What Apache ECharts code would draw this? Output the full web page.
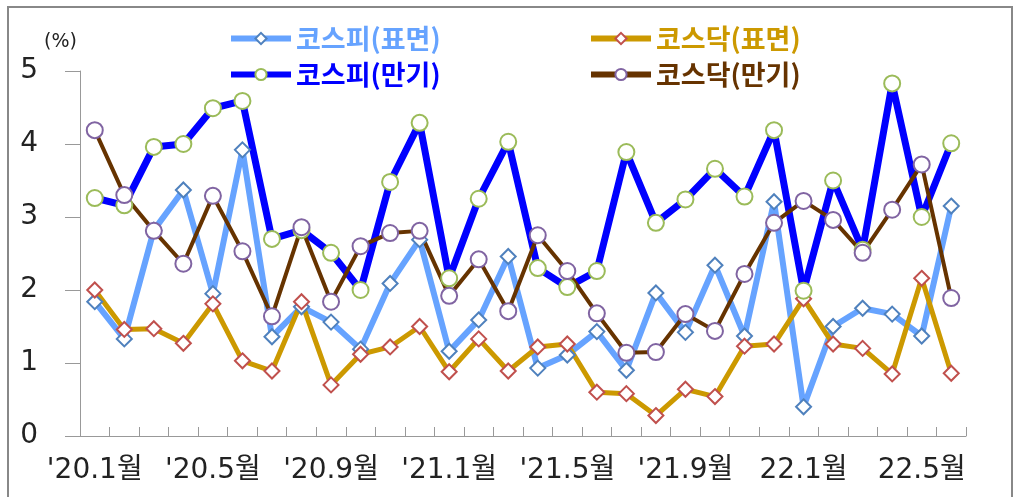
<!DOCTYPE html>
<html>
<head>
<meta charset="UTF-8">
<title>kospi kosdaq</title>
<script src="https://cdn.jsdelivr.net/npm/echarts@6/dist/echarts.min.js"></script>
<style>
	html, body { margin:0; padding:0; background:#fff; }
	#chart-div { width:1014px; height:497px; }
</style>
</head>
<body>
	<div id="chart-div"></div>

	<script type="text/javascript">
		var months = ["'20.1월","'20.2월","'20.3월","'20.4월","'20.5월","'20.6월","'20.7월","'20.8월","'20.9월","'20.10월",
			"'20.11월","'20.12월","'21.1월","'21.2월","'21.3월","'21.4월","'21.5월","'21.6월","'21.7월","'21.8월",
			"'21.9월","'21.10월","'21.11월","'21.12월","22.1월","22.2월","22.3월","22.4월","22.5월","22.6월"];

		var kospiSurface = [1.84,1.33,2.82,3.37,1.95,3.92,1.36,1.77,1.56,1.19,
			2.09,2.69,1.16,1.59,2.46,0.93,1.11,1.43,0.90,1.96,
			1.42,2.34,1.37,3.21,0.40,1.50,1.75,1.67,1.37,3.15];
		var kosdaqSurface = [2.00,1.46,1.47,1.27,1.81,1.03,0.89,1.84,0.70,1.12,
			1.22,1.50,0.88,1.33,0.89,1.22,1.26,0.60,0.58,0.28,
			0.64,0.54,1.23,1.26,1.88,1.26,1.20,0.85,2.16,0.86];
		var kospiMaturity = [3.26,3.16,3.96,4.00,4.49,4.59,2.70,2.82,2.51,2.00,
			3.48,4.29,2.16,3.25,4.03,2.30,2.04,2.26,3.89,2.92,
			3.24,3.66,3.28,4.19,1.99,3.50,2.55,4.83,3.00,4.01];
		var kosdaqMaturity = [4.19,3.30,2.81,2.36,3.29,2.53,1.64,2.86,1.84,2.60,
			2.78,2.81,1.92,2.42,1.71,2.75,2.26,1.68,1.14,1.15,
			1.67,1.44,2.22,2.92,3.22,2.96,2.51,3.10,3.72,1.89];

		var FONT = '"DejaVu Sans", "Noto Sans CJK KR", sans-serif';
		var KFONT = '"Noto Sans CJK KR", sans-serif';

		window.onload = iniPage;

		function iniPage(){
			drawChart();
		}

		function makeSeries(name, data, lineColor, lineWidth, symbol, symbolSize, markColor){
			return {
				name: name,
				type: 'line',
				data: data,
				symbol: symbol,
				symbolSize: symbolSize,
				showAllSymbol: true,
				lineStyle: { color: lineColor, width: lineWidth },
				itemStyle: { color: '#fff', borderColor: markColor, borderWidth: 2 },
				animation: false
			};
		}

		function drawChart(){
			var myChart = echarts.init(document.getElementById('chart-div'));

			var legendText = { fontFamily: KFONT, fontSize: 27, fontWeight: 'bold' };

			var option = {
				backgroundColor: '#fff',
				animation: false,
				grid: { left: 80, right: 48, top: 71, bottom: 61 },
				graphic: [
					{ type: 'rect', shape: { x: 8, y: 7, width: 1004, height: 510 },
					  style: { fill: 'none', stroke: '#888', lineWidth: 2 } },
					{ type: 'text', left: 44, top: 33,
					  style: { text: '(%)', fontFamily: FONT, fontSize: 19, fill: '#222' } }
				],
				legend: [
					{
						orient: 'vertical', left: 223, top: 20, itemGap: 9,
						itemWidth: 60, itemHeight: 14,
						lineStyle: { width: 6 },
						data: [
							{ name: '코스피(표면)', textStyle: { color: '#66a3ff' } },
							{ name: '코스피(만기)', textStyle: { color: '#0000ff' } }
						],
						textStyle: legendText
					},
					{
						orient: 'vertical', left: 583, top: 20, itemGap: 9,
						itemWidth: 60, itemHeight: 14,
						lineStyle: { width: 6 },
						data: [
							{ name: '코스닥(표면)', textStyle: { color: '#cc9900' } },
							{ name: '코스닥(만기)', textStyle: { color: '#663300' } }
						],
						textStyle: legendText
					}
				],
				xAxis: {
					type: 'category',
					data: months,
					boundaryGap: true,
					axisLine: { lineStyle: { color: '#999', width: 1 } },
					axisTick: { show: true, inside: true, length: 9, interval: 0, lineStyle: { color: '#999' } },
					axisLabel: { interval: 3, margin: 21, fontFamily: FONT, fontSize: 28, color: '#222' },
					splitLine: { show: false }
				},
				yAxis: {
					type: 'value',
					min: 0, max: 5, interval: 1,
					axisLine: { show: true, lineStyle: { color: '#999', width: 1 } },
					axisTick: { show: true, length: 15, lineStyle: { color: '#999' } },
					axisLabel: { margin: 42, fontFamily: FONT, fontSize: 28, color: '#222' },
					splitLine: { show: false }
				},
				series: [
					makeSeries('코스피(표면)', kospiSurface, '#66a3ff', 6, 'diamond', 15, '#4f81bd'),
					makeSeries('코스닥(표면)', kosdaqSurface, '#cc9900', 5, 'diamond', 15, '#c0504d'),
					makeSeries('코스피(만기)', kospiMaturity, '#0000ff', 7, 'circle', 16, '#9bbb59'),
					makeSeries('코스닥(만기)', kosdaqMaturity, '#663300', 4, 'circle', 16, '#8064a2')
				]
			};

			myChart.setOption(option);
		}
	</script>
</body>
</html>
